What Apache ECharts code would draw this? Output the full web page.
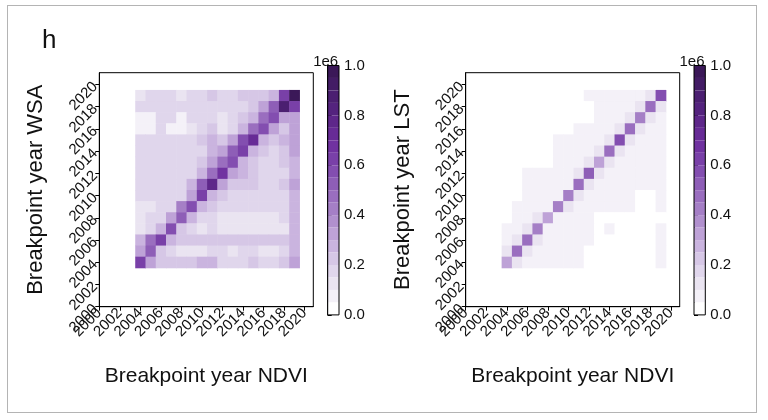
<!DOCTYPE html>
<html>
<head>
<meta charset="utf-8">
<script src="https://cdn.jsdelivr.net/npm/echarts@6/dist/echarts.min.js"></script>
<style>
  html, body { margin: 0; padding: 0; background: #fff; }
  #frame { position: absolute; left: 7px; top: 5px; width: 748px; height: 406px; border: 1px solid #b4b4b4; }
  #chart { position: absolute; left: 0; top: 0; width: 768px; height: 420px; }
</style>
</head>
<body>
<div id="frame"></div>
<div id="chart"></div>
<script>
// cell years (x = NDVI breakpoint, y = WSA / LST breakpoint)
const cellYears = [2004, 2005, 2006, 2007, 2008, 2009, 2010, 2011, 2012, 2013, 2014, 2015, 2016, 2017, 2018, 2019];
const tickYears = [2000, 2002, 2004, 2006, 2008, 2010, 2012, 2014, 2016, 2018, 2020];

// counts in units of 1e6, rows from y = 2019 (top) down to y = 2004
const wsaRows = [
  [0.15, 0.20, 0.20, 0.20, 0.15, 0.20, 0.20, 0.25, 0.18, 0.18, 0.22, 0.22, 0.22, 0.30, 0.62, 0.97],
  [0.17, 0.17, 0.17, 0.17, 0.17, 0.17, 0.20, 0.20, 0.20, 0.20, 0.20, 0.22, 0.35, 0.50, 0.88, 0.65],
  [0.10, 0.10, 0.16, 0.16, 0.10, 0.16, 0.16, 0.16, 0.14, 0.18, 0.22, 0.30, 0.45, 0.60, 0.32, 0.35],
  [0.10, 0.10, 0.16, 0.10, 0.10, 0.14, 0.16, 0.22, 0.12, 0.20, 0.28, 0.45, 0.58, 0.32, 0.25, 0.35],
  [0.18, 0.18, 0.18, 0.18, 0.18, 0.18, 0.22, 0.28, 0.25, 0.35, 0.55, 0.75, 0.30, 0.25, 0.30, 0.35],
  [0.18, 0.18, 0.18, 0.18, 0.18, 0.18, 0.20, 0.30, 0.35, 0.50, 0.65, 0.30, 0.22, 0.20, 0.25, 0.35],
  [0.18, 0.18, 0.18, 0.18, 0.18, 0.20, 0.25, 0.35, 0.45, 0.55, 0.30, 0.25, 0.20, 0.20, 0.22, 0.30],
  [0.18, 0.18, 0.18, 0.18, 0.18, 0.20, 0.30, 0.45, 0.68, 0.35, 0.30, 0.25, 0.20, 0.20, 0.20, 0.30],
  [0.20, 0.20, 0.20, 0.20, 0.20, 0.30, 0.50, 0.78, 0.35, 0.25, 0.25, 0.25, 0.20, 0.20, 0.22, 0.35],
  [0.17, 0.20, 0.20, 0.20, 0.20, 0.35, 0.65, 0.30, 0.25, 0.20, 0.20, 0.20, 0.20, 0.20, 0.20, 0.30],
  [0.15, 0.15, 0.20, 0.20, 0.40, 0.60, 0.30, 0.22, 0.18, 0.18, 0.18, 0.18, 0.18, 0.18, 0.20, 0.28],
  [0.15, 0.20, 0.20, 0.35, 0.50, 0.30, 0.20, 0.20, 0.15, 0.15, 0.15, 0.15, 0.15, 0.15, 0.20, 0.30],
  [0.15, 0.20, 0.30, 0.60, 0.25, 0.20, 0.12, 0.20, 0.15, 0.15, 0.15, 0.15, 0.15, 0.15, 0.15, 0.28],
  [0.30, 0.45, 0.65, 0.28, 0.22, 0.22, 0.22, 0.22, 0.22, 0.22, 0.22, 0.22, 0.22, 0.22, 0.22, 0.30],
  [0.35, 0.50, 0.25, 0.20, 0.15, 0.15, 0.15, 0.20, 0.20, 0.12, 0.20, 0.20, 0.15, 0.15, 0.20, 0.30],
  [0.65, 0.35, 0.25, 0.25, 0.22, 0.22, 0.27, 0.27, 0.20, 0.20, 0.20, 0.25, 0.20, 0.20, 0.25, 0.32]
];
const lstRows = [
  [0, 0, 0, 0, 0, 0, 0, 0, 0.07, 0.07, 0.07, 0.07, 0.07, 0.07, 0.12, 0.55],
  [0, 0, 0, 0, 0, 0, 0, 0, 0, 0.07, 0.07, 0.07, 0.07, 0.12, 0.45, 0.15],
  [0, 0, 0, 0, 0, 0, 0, 0, 0, 0.07, 0.07, 0.07, 0.12, 0.40, 0.12, 0.07],
  [0, 0, 0, 0, 0, 0, 0, 0.07, 0.07, 0.07, 0.07, 0.12, 0.45, 0.12, 0.07, 0.07],
  [0, 0, 0, 0, 0, 0.07, 0.07, 0.07, 0.07, 0.07, 0.14, 0.55, 0.15, 0.07, 0.07, 0.07],
  [0, 0, 0, 0, 0, 0.07, 0.07, 0.07, 0.07, 0.12, 0.48, 0.14, 0.07, 0.07, 0.07, 0.07],
  [0, 0, 0, 0, 0, 0.07, 0.07, 0.07, 0.12, 0.35, 0.12, 0.07, 0.07, 0.07, 0.07, 0.07],
  [0, 0, 0.07, 0.07, 0.07, 0.07, 0.07, 0.14, 0.50, 0.12, 0.07, 0.07, 0.07, 0.07, 0.07, 0.07],
  [0, 0, 0.07, 0.07, 0.07, 0.07, 0.10, 0.45, 0.12, 0.07, 0.07, 0.07, 0.07, 0.07, 0.07, 0.07],
  [0, 0, 0.07, 0.07, 0.07, 0.10, 0.40, 0.12, 0.07, 0.07, 0.07, 0.07, 0.07, 0, 0, 0.07],
  [0, 0.07, 0.07, 0.07, 0.10, 0.40, 0.12, 0.07, 0.07, 0.07, 0.07, 0.07, 0.07, 0, 0, 0.07],
  [0, 0.07, 0.07, 0.12, 0.32, 0.10, 0.07, 0.07, 0.07, 0, 0, 0, 0, 0, 0, 0],
  [0.07, 0.07, 0.12, 0.40, 0.10, 0.07, 0.07, 0.07, 0.07, 0, 0.07, 0, 0, 0, 0, 0.07],
  [0.07, 0.12, 0.45, 0.12, 0.07, 0.07, 0.07, 0.07, 0.07, 0, 0, 0, 0, 0, 0, 0.07],
  [0.12, 0.45, 0.12, 0.07, 0.07, 0.07, 0.07, 0.07, 0, 0, 0, 0, 0, 0, 0, 0.07],
  [0.35, 0.12, 0.07, 0.07, 0.07, 0.07, 0.07, 0.07, 0, 0, 0, 0, 0, 0, 0, 0.07]
];

const FONT = 'Liberation Sans';
const purples = ['#ffffff', '#ebe5f2', '#d8cbe7', '#c2a7da', '#a986c9', '#9466bb',
                 '#7f48ad', '#6d2e9e', '#5c2688', '#4a1f70', '#3b1858'];

// x labels are split over two stacked axes so echarts does not drop the overlapping rotated ones
const xTicksA = tickYears.filter((y, i) => i % 2 === 0);
const xTicksB = tickYears.filter((y, i) => i % 2 === 1);

function toCells(rows) {
  const out = [];
  rows.forEach((row, ri) => {
    const y = cellYears[cellYears.length - 1 - ri];
    row.forEach((v, ci) => out.push([cellYears[ci], y, v]));
  });
  return out;
}

function renderCell(params, api) {
  const c = api.coord([api.value(0), api.value(1)]);
  const s = api.size([1, 1]);
  return {
    type: 'rect',
    shape: { x: c[0] - s[0] / 2, y: c[1] - s[1] / 2, width: s[0] + 0.5, height: s[1] + 0.5 },
    style: { fill: api.visual('color') }
  };
}

function yearAxis(idx, dim, name, ticks) {
  return {
    type: 'value', gridIndex: idx, min: 2000, max: dim === 'x' ? 2020.85 : 2021.05,
    name: name, nameLocation: 'middle', nameGap: dim === 'x' ? 59 : 52,
    nameTextStyle: { fontFamily: FONT, fontSize: dim === 'x' ? 21 : 22, color: '#111' },
    axisLine: { show: !!name, lineStyle: { color: '#000', width: 1 } },
    axisTick: { show: true, length: 4, lineStyle: { color: '#000' }, customValues: ticks },
    axisLabel: { rotate: 45, margin: 4, fontFamily: FONT, fontSize: 15, color: '#111',
                 customValues: ticks, formatter: v => String(v),
                 showMinLabel: true, showMaxLabel: true, hideOverlap: false },
    splitLine: { show: false }
  };
}

function cbarAxis(idx) {
  return {
    type: 'value', gridIndex: idx, position: 'right', min: 0, max: 1, interval: 0.2,
    name: '1e6', nameLocation: 'end', nameGap: -4,
    nameTextStyle: { fontFamily: FONT, fontSize: 15, color: '#111', align: 'center', verticalAlign: 'bottom', padding: [0, 4, 0, 0] },
    axisLine: { show: true, lineStyle: { color: '#000' } },
    axisTick: { show: true, length: 4, lineStyle: { color: '#000' } },
    axisLabel: { margin: 5, fontFamily: FONT, fontSize: 15, color: '#111', formatter: v => v.toFixed(1) },
    splitLine: { show: false }
  };
}

function cbarMap(series, left) {
  return {
    type: 'piecewise', seriesIndex: series, dimension: 2, min: 0, max: 1, splitNumber: 20,
    orient: 'vertical', left: left, top: 65.5, padding: 0, itemGap: 0,
    itemWidth: 11.3, itemHeight: 12.47, itemSymbol: 'rect', showLabel: false,
    selectedMode: false, hoverLink: false,
    inRange: { color: purples }
  };
}

const chart = echarts.init(document.getElementById('chart'));
chart.setOption({
  backgroundColor: 'transparent',
  animation: false,
  title: { text: 'h', left: 42, top: 28, padding: 0,
           textStyle: { fontFamily: FONT, fontSize: 26, fontWeight: 'normal', color: '#111' } },
  grid: [
    { left: 99.3, top: 72.7, width: 214, height: 234, show: true, borderColor: '#000', borderWidth: 1 },
    { left: 465.7, top: 72.7, width: 214, height: 234, show: true, borderColor: '#000', borderWidth: 1 },
    { left: 327.7, top: 65.5, width: 11.3, height: 249.4, show: true, borderColor: '#000', borderWidth: 1, z: 10 },
    { left: 694, top: 65.5, width: 11.3, height: 249.4, show: true, borderColor: '#000', borderWidth: 1, z: 10 }
  ],
  xAxis: [
    yearAxis(0, 'x', 'Breakpoint year NDVI', xTicksA),
    yearAxis(1, 'x', 'Breakpoint year NDVI', xTicksA),
    { type: 'value', gridIndex: 2, min: 0, max: 1, show: false },
    { type: 'value', gridIndex: 3, min: 0, max: 1, show: false },
    Object.assign(yearAxis(0, 'x', '', xTicksB), { position: 'bottom', offset: 0 }),
    Object.assign(yearAxis(1, 'x', '', xTicksB), { position: 'bottom', offset: 0 })
  ],
  yAxis: [
    yearAxis(0, 'y', 'Breakpoint year WSA', tickYears),
    yearAxis(1, 'y', 'Breakpoint year LST', tickYears),
    cbarAxis(2),
    cbarAxis(3)
  ],
  visualMap: [cbarMap(0, 327.7), cbarMap(1, 694)],
  series: [
    { type: 'custom', xAxisIndex: 0, yAxisIndex: 0, renderItem: renderCell, data: toCells(wsaRows), encode: { x: 0, y: 1 } },
    { type: 'custom', xAxisIndex: 1, yAxisIndex: 1, renderItem: renderCell, data: toCells(lstRows), encode: { x: 0, y: 1 } }
  ]
});
</script>
</body>
</html>
